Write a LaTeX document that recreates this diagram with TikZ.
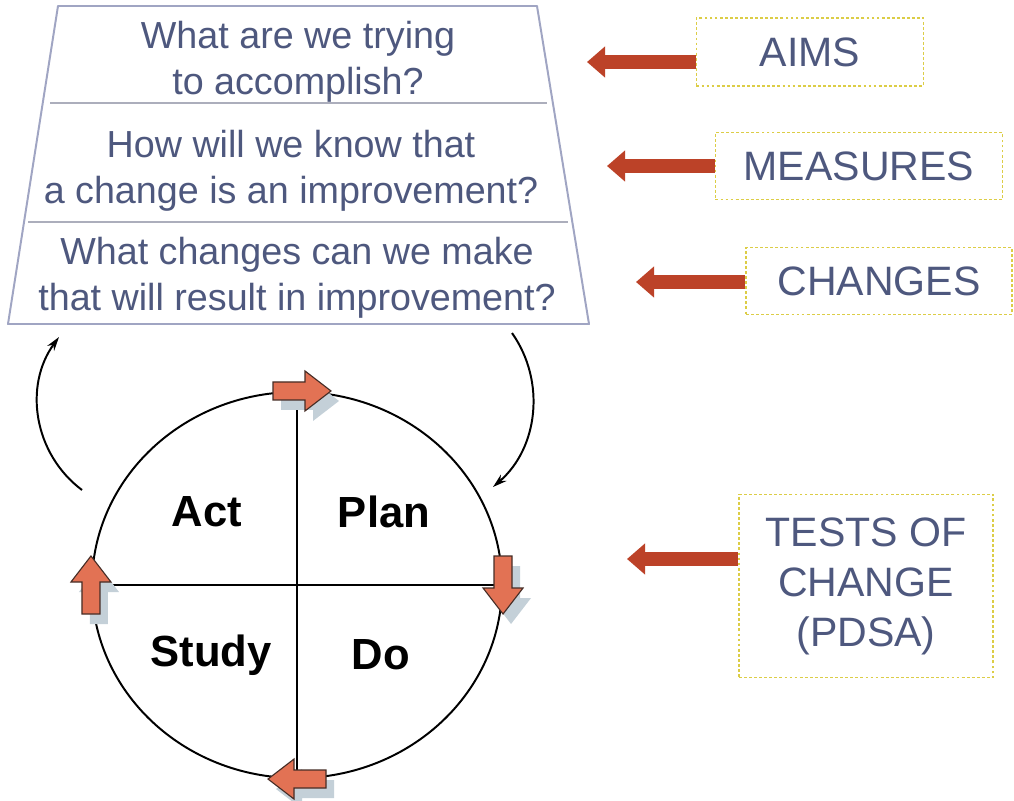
\documentclass[tikz,border=0pt]{standalone}
\usepackage{fontspec}
\setmainfont{Liberation Sans}
\usetikzlibrary{arrows.meta, positioning, calc, shapes.geometric}
\definecolor{qtext}{RGB}{78,88,126}
\definecolor{frameline}{RGB}{160,165,195}
\definecolor{rowline}{RGB}{172,174,188}
\definecolor{boxyellow}{RGB}{220,205,70}
\definecolor{aimred}{RGB}{188,66,40}
\definecolor{pdsaorange}{RGB}{226,114,84}
\definecolor{pdsaedge}{RGB}{70,45,38}
\definecolor{pdsashadow}{RGB}{196,208,216}
\tikzset{
  question/.style={font=\fontsize{26.8}{32.5}\selectfont, text=qtext, align=center},
  labelbox/.style={draw=boxyellow, line width=0.9pt, dash pattern=on 2pt off 1.6pt,
    font=\fontsize{29.2}{35.6}\selectfont, text=qtext, align=center, inner sep=0pt},
  phase/.style={font=\fontsize{31}{37}\selectfont\bfseries, text=black},
  pics/pdsaarrow/.style={code={
    \fill[pdsashadow, shift={(8,10)}, rotate=#1]
      (-29,-9) -- (3,-9) -- (3,-20) -- (29,0) -- (3,20) -- (3,9) -- (-29,9) -- cycle;
    \draw[pdsaedge, fill=pdsaorange, line width=0.8pt, line join=miter, rotate=#1]
      (-29,-9) -- (3,-9) -- (3,-20) -- (29,0) -- (3,20) -- (3,9) -- (-29,9) -- cycle;
  }},
}

\begin{document}
\begin{tikzpicture}[
  x=0.025cm,y=-0.025cm,
  frame/.style={draw=frameline, line width=1.4pt, line join=round},
  rowsep/.style={draw=rowline, line width=1.3pt},
  spoke/.style={draw=black, line width=1.4pt},
  loopback/.style={draw=black, line width=1.4pt, -{Stealth[length=10pt,width=6pt]}},
  redarrow/.style={draw=aimred, line width=10pt, -{Triangle[length=12.8pt,width=21.3pt]}}
]
\fill[white] (0,0) rectangle (1014,801);
\useasboundingbox (0,0) rectangle (1014,801);

% ---- model questions (trapezoid) ----
\coordinate (tl) at (58,6);
\coordinate (tr) at (537,6);
\coordinate (br) at (589,324);
\coordinate (bl) at (8,324);
\draw[frame] (tl) -- (tr) -- (br) -- (bl) -- cycle;
\draw[rowsep] (50,103) -- (547,103);
\draw[rowsep] (28,222) -- (568,222);

\node[question] (q1) at (298,62)  {What are we trying\\to accomplish?};
\node[question] (q2) at (291,171) {How will we know that\\a change is an improvement?};
\node[question] (q3) at (297,278) {What changes can we make\\that will result in improvement?};

% ---- PDSA cycle ----
\node[draw, ellipse, line width=1.4pt, minimum width=10.25cm, minimum height=9.65cm] (pdsa) at (297,585) {};
\draw[spoke] (pdsa.north) -- (pdsa.south);
\draw[spoke] (pdsa.west) -- (pdsa.east);

\node[phase] (act)   at (207,512) {Act};
\node[phase] (plan)  at (384,512) {Plan};
\node[phase] (study) at (211,655) {Study};
\node[phase] (do)    at (381,655) {Do};

\pic at ([xshift=0.125cm]pdsa.north) {pdsaarrow=0};
\pic at (pdsa.east)  {pdsaarrow=-90};
\pic at (pdsa.south) {pdsaarrow=180};
\pic at (pdsa.west)  {pdsaarrow=90};

% ---- loops between questions and cycle ----
\coordinate (leftFrom)  at (82,490);
\coordinate (leftTo)    at (59,337);
\coordinate (rightFrom) at (512,333);
\coordinate (rightTo)   at (493,487);
\draw[loopback] (leftFrom) .. controls (33.7,453.8) and (23.4,385.8) .. (leftTo);
\draw[loopback] (rightFrom) .. controls (546.2,381.6) and (538,448.2) .. (rightTo);

% ---- labels on the right ----
\node[labelbox, minimum width=5.675cm, minimum height=1.7cm]   (aims)     at (810,52)  {AIMS};
\node[labelbox, minimum width=7.175cm, minimum height=1.675cm] (measures) at (859,166) {MEASURES};
\node[labelbox, minimum width=6.65cm,  minimum height=1.675cm] (changes)  at (879,281) {CHANGES};
\node[labelbox, minimum width=6.35cm,  minimum height=4.575cm] (tests)    at (866,586) {TESTS OF\\CHANGE\\(PDSA)};

\coordinate (aimsTip)     at (587,62);
\coordinate (measuresTip) at (607,166);
\coordinate (changesTip)  at (636,282);
\coordinate (testsTip)    at (627,559);
\draw[redarrow] (aims.west |- aimsTip)         -- (aimsTip);
\draw[redarrow] (measures.west |- measuresTip) -- (measuresTip);
\draw[redarrow] (changes.west |- changesTip)   -- (changesTip);
\draw[redarrow] (tests.west |- testsTip)       -- (testsTip);

\end{tikzpicture}
\end{document}
